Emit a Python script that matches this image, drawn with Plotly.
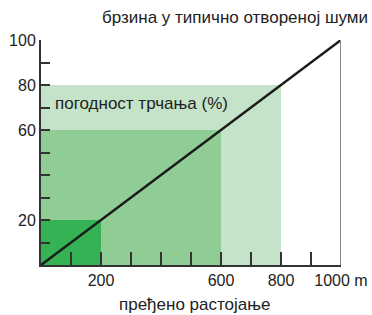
import plotly.graph_objects as go

# data
distance_limits = [800, 600, 200]          # m
suitability = [80, 60, 20]                 # %
rect_colors = ["#c5e3c8", "#8fcd94", "#34b254"]
line_x = [0, 1000]
line_y = [0, 100]
x_tickvals = [100, 200, 300, 400, 500, 600, 700, 800, 900, 1000]
x_ticktext = ["", "200", "", "", "", "600", "", "800", "", "1000 m"]
y_tickvals = [10, 20, 30, 40, 50, 60, 70, 80, 90, 100]
y_ticktext = ["", "20", "", "", "", "60", "", "80", "", "100"]

FONT = "Liberation Sans Narrow, Arial Narrow, sans-serif"

fig = go.Figure()
for d, s, c in zip(distance_limits, suitability, rect_colors):
    fig.add_trace(go.Scatter(
        x=[0, d, d, 0, 0], y=[0, 0, s, s, 0], mode="lines",
        fill="toself", fillcolor=c, line=dict(width=0), hoverinfo="skip",
        showlegend=False))
fig.add_trace(go.Scatter(x=line_x, y=line_y, mode="lines",
                         line=dict(color="#1a1a1a", width=2.5), showlegend=False))

fig.add_shape(type="line", xref="x", yref="paper", x0=1000, x1=1000, y0=0, y1=1,
              line=dict(color="#8a8a8a", width=2))

fig.add_annotation(text="погодност трчања (%)", x=40, y=72, xref="x", yref="y",
                   xanchor="left", yanchor="middle", showarrow=False,
                   font=dict(size=17, color="#222"))
fig.add_annotation(text="брзина у типично отвореној шуми", x=1.095, y=1.098,
                   xref="paper", yref="paper", xanchor="right", yanchor="middle",
                   showarrow=False, font=dict(size=17, color="#222"))
fig.add_annotation(text="пређено растојање", x=0.513, y=-0.175,
                   xref="paper", yref="paper", xanchor="center", yanchor="middle",
                   showarrow=False, font=dict(size=17, color="#222"))

fig.update_layout(
    width=372, height=315, margin=dict(l=41, r=31, t=40, b=50),
    plot_bgcolor="white", paper_bgcolor="white",
    font=dict(family=FONT, size=16, color="#222"),
    xaxis=dict(range=[0, 1000], tickvals=x_tickvals, ticktext=x_ticktext,
               ticks="inside", ticklen=13, tickwidth=1.5, tickcolor="#333",
               showline=True, linecolor="#333", linewidth=2, showgrid=False,
               zeroline=False, fixedrange=True, automargin=False),
    yaxis=dict(range=[0, 100], tickvals=y_tickvals, ticktext=y_ticktext,
               ticks="inside", ticklen=9, tickwidth=1.5, tickcolor="#333",
               showline=True, linecolor="#333", linewidth=2, showgrid=False,
               zeroline=False, fixedrange=True, automargin=False),
)
fig.write_html("out.html", config={"displayModeBar": False},
               post_script="document.body.style.margin='0';document.body.style.overflow='hidden';")
